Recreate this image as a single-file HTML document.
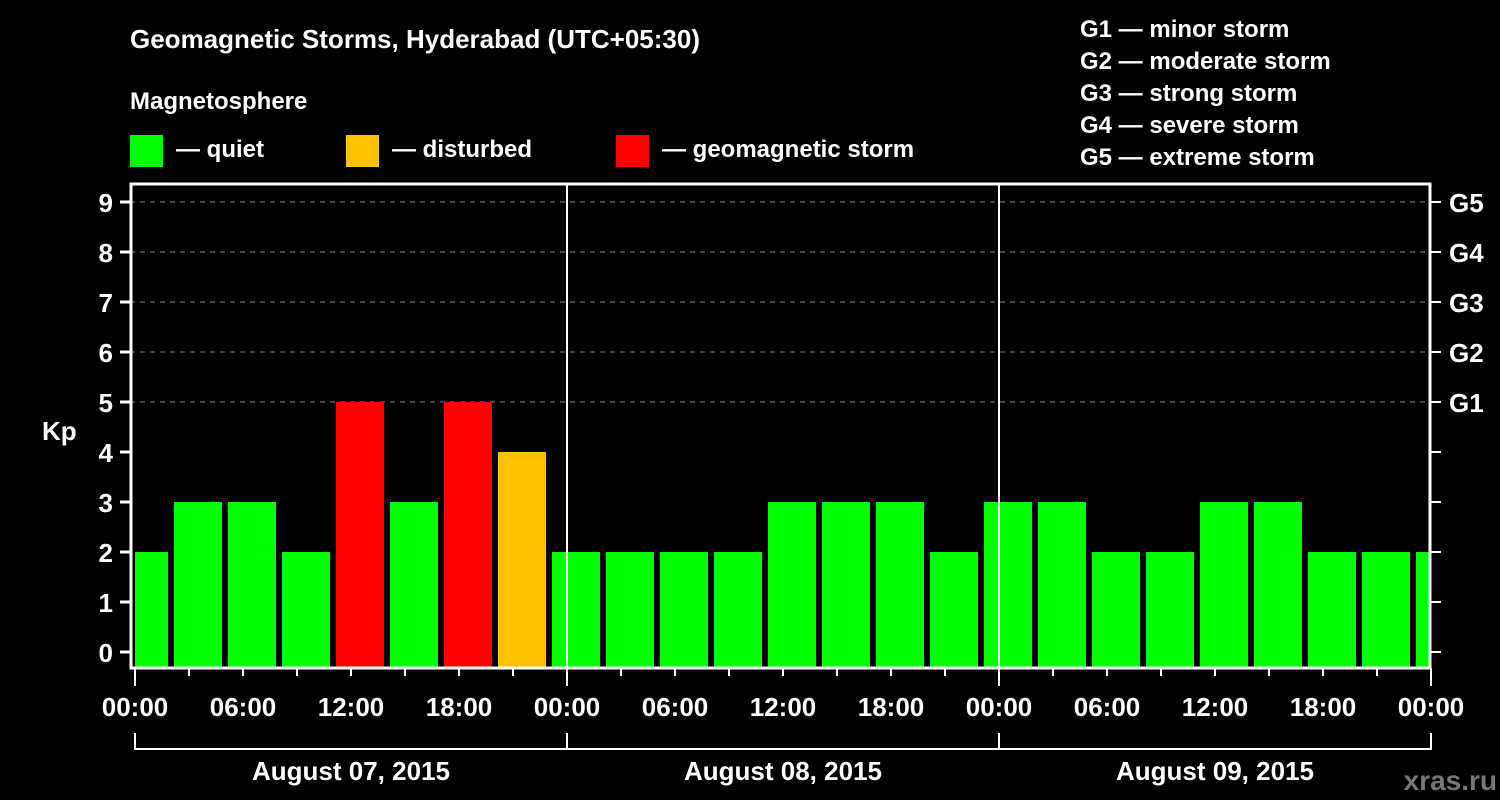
<!DOCTYPE html>
<html><head><meta charset="utf-8"><style>
html,body{margin:0;padding:0;background:#000;}
svg{display:block;font-family:"Liberation Sans",sans-serif;font-weight:bold;}
</style></head><body>
<svg width="1500" height="800" viewBox="0 0 1500 800">
<g id="static">
<text x="130" y="48" fill="#fff" font-size="26">Geomagnetic Storms, Hyderabad (UTC+05:30)</text>
<text x="130" y="109" fill="#fff" font-size="24">Magnetosphere</text>
<rect x="130" y="135" width="33" height="32" fill="#00ff00"/>
<text x="176" y="157" fill="#fff" font-size="24">— quiet</text>
<rect x="346" y="135" width="33" height="32" fill="#ffc000"/>
<text x="392" y="157" fill="#fff" font-size="24">— disturbed</text>
<rect x="616" y="135" width="33" height="32" fill="#ff0000"/>
<text x="662" y="157" fill="#fff" font-size="24">— geomagnetic storm</text>
<g fill="#fff" font-size="24">
<text x="1080" y="37">G1 — minor storm</text>
<text x="1080" y="69">G2 — moderate storm</text>
<text x="1080" y="101">G3 — strong storm</text>
<text x="1080" y="133">G4 — severe storm</text>
<text x="1080" y="165">G5 — extreme storm</text>
</g>
<text x="42" y="440" fill="#fff" font-size="26">Kp</text>
<text x="1497" y="790" fill="#777" font-size="28" text-anchor="end">xras.ru</text>
</g>
<g id="plot"></g>
</svg>
<script>
const kpValues=[2,3,3,2,5,3,5,4,2,2,2,2,3,3,3,2,3,3,2,2,3,3,2,2,2];
const yTicks=[0,1,2,3,4,5,6,7,8,9];
const gLabels=["G1","G2","G3","G4","G5"];
const gLevels=[5,6,7,8,9];
const xTickLabels=["00:00","06:00","12:00","18:00","00:00","06:00","12:00","18:00","00:00","06:00","12:00","18:00","00:00"];
const dayLabels=["August 07, 2015","August 08, 2015","August 09, 2015"];

const X0=135,PXH=18,HOURS=72;
const xs=h=>X0+h*PXH;
const ys=k=>652-50*k;
const NS="http://www.w3.org/2000/svg";
const g=document.getElementById('plot');
function mk(t,a){const e=document.createElementNS(NS,t);for(const k in a)e.setAttribute(k,a[k]);g.appendChild(e);return e;}
// gridlines
gLevels.forEach(k=>{const l=mk('line',{x1:130,x2:1431,y1:ys(k),y2:ys(k),stroke:'#888','stroke-dasharray':'5,5','stroke-width':1});

});
// bars
kpValues.forEach((v,i)=>{
 let s=Math.max(0,3*i-1),e=Math.min(HOURS,3*i+2);
 let x1=xs(s)+(3*i-1<0?0:3),x2=xs(e)-(3*i+2>HOURS?2:3);
 const c=v>=5?'#ff0000':(v>=4?'#ffc000':'#00ff00');
 const r=mk('rect',{x:x1,y:ys(v),width:x2-x1,height:668-ys(v),fill:c});
 
 
});
// day separators
[24,48].forEach(h=>{const l=mk('line',{x1:xs(h),x2:xs(h),y1:183,y2:668,stroke:'#fff','stroke-width':2});

});
// frame
const f=mk('rect',{x:131,y:184,width:1299,height:484,fill:'none',stroke:'#fff','stroke-width':3});


// y ticks & labels
yTicks.forEach(k=>{
 mk('line',{x1:120,x2:130,y1:ys(k),y2:ys(k),stroke:'#fff','stroke-width':3});
 mk('line',{x1:1431,x2:1441,y1:ys(k),y2:ys(k),stroke:'#fff','stroke-width':2});
 const t=mk('text',{x:113,y:ys(k)+10,fill:'#fff','font-size':26,'text-anchor':'end'});
 t.textContent=k;
 
 
});
gLabels.forEach((s,i)=>{const t=mk('text',{x:1449,y:ys(gLevels[i])+10,fill:'#fff','font-size':26});
 t.textContent=s;
 
 });
// x ticks
for(let h=0;h<=HOURS;h+=3){const big=h%24===0;
 mk('line',{x1:xs(h),x2:xs(h),y1:668,y2:big?686:676,stroke:'#fff','stroke-width':2});}
xTickLabels.forEach((s,i)=>{const t=mk('text',{x:xs(i*6),y:716,fill:'#fff','font-size':26,'text-anchor':'middle'});
 t.textContent=s;
 
 });
// day brackets
mk('line',{x1:xs(0),x2:xs(HOURS),y1:749,y2:749,stroke:'#fff','stroke-width':2});
for(let d=0;d<=3;d++)mk('line',{x1:xs(d*24),x2:xs(d*24),y1:733,y2:750,stroke:'#fff','stroke-width':2});
dayLabels.forEach((s,i)=>{const t=mk('text',{x:xs(i*24+12),y:780,fill:'#fff','font-size':26,'text-anchor':'middle'});
 t.textContent=s;
 
 });
</script>
</body></html>
